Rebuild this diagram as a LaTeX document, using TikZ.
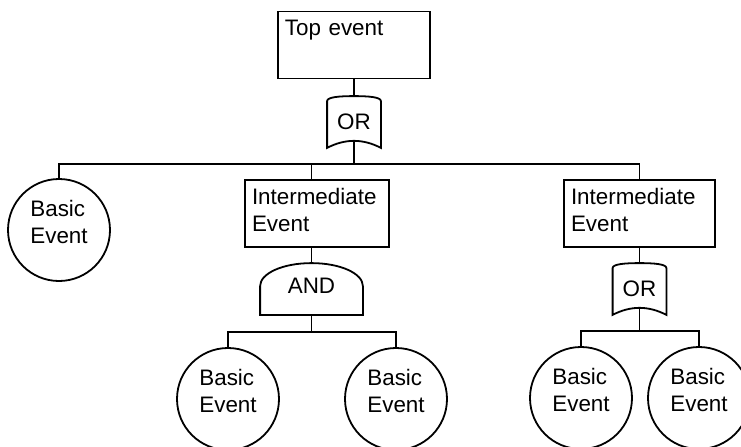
\documentclass[tikz,border=0pt]{standalone}
\usepackage{fontspec}
\setmainfont{Liberation Sans}
\usetikzlibrary{calc}

\tikzset{
  event/.style={rectangle, draw, align=left, inner xsep=3.5pt, inner ysep=0pt, text height=12pt, text depth=21.5pt},
  basic/.style={circle, draw, align=left, minimum size=51pt, inner sep=0pt, text height=13.5pt, text depth=0pt},
  orgate/.style={minimum width=26pt, minimum height=25pt, inner sep=0pt,
    append after command={\pgfextra{\draw
      (\tikzlastnode.south west) -- ([yshift=-2.5pt]\tikzlastnode.north west)
      .. controls ([yshift=-0.5pt]\tikzlastnode.north west) and ([xshift=6pt]\tikzlastnode.north west) .. (\tikzlastnode.north)
      .. controls ([xshift=-6pt]\tikzlastnode.north east) and ([yshift=-0.5pt]\tikzlastnode.north east) .. ([yshift=-2.5pt]\tikzlastnode.north east)
      -- (\tikzlastnode.south east)
      .. controls ([xshift=-9pt,yshift=4.7pt]\tikzlastnode.south east) and ([xshift=9pt,yshift=4.7pt]\tikzlastnode.south west) .. (\tikzlastnode.south west)
      -- cycle;}}},
  andgate/.style={minimum width=50.5pt, minimum height=25pt, inner sep=0pt, text depth=3pt,
    append after command={\pgfextra{\draw
      (\tikzlastnode.south west) -- ([yshift=-11.5pt]\tikzlastnode.north west)
      .. controls ([yshift=-5.15pt]\tikzlastnode.north west) and ([xshift=11.3pt]\tikzlastnode.north west) .. (\tikzlastnode.north)
      .. controls ([xshift=-11.3pt]\tikzlastnode.north east) and ([yshift=-5.15pt]\tikzlastnode.north east) .. ([yshift=-11.5pt]\tikzlastnode.north east)
      -- (\tikzlastnode.south east) -- cycle;}}}
}

\begin{document}
\begin{tikzpicture}[x=0.5pt, y=-0.5pt, line width=0.9pt, font=\fontsize{11.2}{13.5}\selectfont]
\useasboundingbox (0,0) rectangle (741,446);

\node[event, text width=69pt] (top) at (354,45) {Top event};
\node[orgate] (or1) at (354,122) {OR};

\node[basic] (be1) at (59,230) {Basic\\Event};
\node[event, text width=65pt] (int1) at (317,213.5) {Intermediate\\Event};
\node[event, text width=68.5pt] (int2) at (639.5,213.5) {Intermediate\\Event};

\node[andgate] (and1) at (311.5,289) {AND};
\node[orgate] (or2) at (639.5,289) {OR};

\node[basic] (be2) at (228,399) {Basic\\Event};
\node[basic] (be3) at (396,399) {Basic\\Event};
\node[basic] (be4) at (581,398) {Basic\\Event};
\node[basic] (be5) at (699,398) {Basic\\Event};

\coordinate (j1) at ($(or1.south)+(0,16)$);
\coordinate (j2) at ($(and1.south)+(0,17)$);
\coordinate (j3) at ($(or2.south)+(0,16)$);

\draw (top.south) -- (or1.north);
\draw ([yshift=3.5pt]or1.south) -- (j1);
\draw (be1.north) |- (j1) -| (int2.north);
\draw (and1.north |- j1) -- (and1.north |- int1.north);

\draw (and1.north |- int1.south) -- (and1.north);
\draw (and1.south) -- (j2);
\draw (be2.north) |- (j2) -| (be3.north);

\draw (int2.south) -- (or2.north);
\draw ([yshift=3.5pt]or2.south) -- (j3);
\draw (be4.north) |- (j3) -| (be5.north);
\end{tikzpicture}
\end{document}
